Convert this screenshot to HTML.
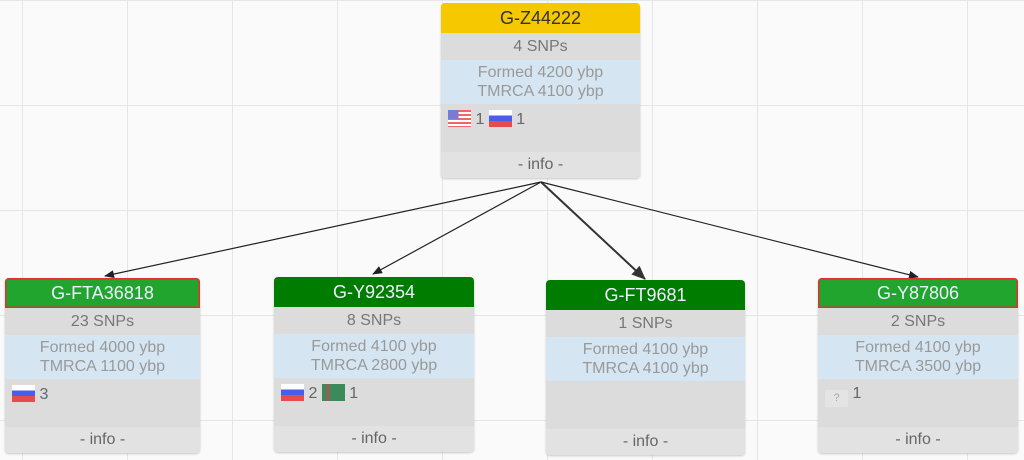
<!DOCTYPE html>
<html><head><style>
body{margin:0;width:1024px;height:460px;overflow:hidden;background:#fafafa;font-family:"Liberation Sans",sans-serif;position:relative;
background-image:linear-gradient(#e6e6e6 1px,transparent 1px),linear-gradient(90deg,#e6e6e6 1px,transparent 1px);background-size:105px 105px;background-position:0 0,22px 0;}
.c{position:absolute;background:#dcdcdc;border-radius:4px;box-shadow:0 1px 2px rgba(0,0,0,.2);overflow:hidden;text-align:center;color:#777;font-size:16px}
.h{height:30px;line-height:30px;font-size:18px;color:#eef;box-sizing:border-box}
.r{box-shadow:inset 0 0 0 1.5px #e03030}
.s{height:27px;line-height:27px}
.b{height:44px;background:#d5e6f2;color:#999;line-height:19px;padding-top:3px;box-sizing:border-box}
.f{height:48px;text-align:left;padding:6px 0 0 7px;box-sizing:border-box;color:#666}
.i{height:26px;line-height:26px;background:#e2e2e2;color:#666}
.ru{display:inline-block;width:23px;height:17px;background:linear-gradient(#fff 33%,#4a5de8 33% 66%,#e74c4c 66%);vertical-align:-3px}
.us{display:inline-block;width:23px;height:17px;background:linear-gradient(90deg,#7a7ad6 45%,transparent 45%) 0 0/100% 9px no-repeat,repeating-linear-gradient(#e66 0 2px,#fff 2px 4px);vertical-align:-3px}
.tm{display:inline-block;width:23px;height:17px;background:linear-gradient(90deg,#3a8a5a 20%,#a55 20% 32%,#3a8a5a 32%);vertical-align:-3px}
.q{display:inline-block;width:23px;height:17px;background:#e4e4e4;color:#aaa;font-size:11px;text-align:center;line-height:17px;vertical-align:-3px}
</style></head><body>
<svg width="1024" height="460" style="position:absolute;left:0;top:0">
<defs><marker id="a" markerWidth="10" markerHeight="8" refX="9" refY="4" orient="auto" markerUnits="userSpaceOnUse"><path d="M0,0L10,4L0,8z" fill="#222"/></marker>
<marker id="b" markerWidth="14" markerHeight="12" refX="13" refY="6" orient="auto" markerUnits="userSpaceOnUse"><path d="M0,0L14,6L0,12z" fill="#333"/></marker></defs>
<g stroke="#222" stroke-width="1.2" fill="none">
<line x1="541" y1="182" x2="105" y2="276" marker-end="url(#a)"/>
<line x1="541" y1="182" x2="373" y2="274" marker-end="url(#a)"/>
<line x1="541" y1="182" x2="645" y2="279" stroke-width="2" stroke="#333" marker-end="url(#b)"/>
<line x1="541" y1="182" x2="918" y2="277" marker-end="url(#a)"/>
</g></svg>
<div class="c" style="left:441px;top:3px;width:199px"><div class="h" style="background:#f5c800;color:#333">G-Z44222</div><div class="s">4 SNPs</div><div class="b">Formed 4200 ybp<br>TMRCA 4100 ybp</div><div class="f"><span class="us"></span> 1 <span class="ru"></span> 1</div><div class="i">- info -</div></div>
<div class="c" style="left:5px;top:278px;width:195px"><div class="h r" style="background:#22a52e">G-FTA36818</div><div class="s">23 SNPs</div><div class="b">Formed 4000 ybp<br>TMRCA 1100 ybp</div><div class="f"><span class="ru"></span> 3</div><div class="i">- info -</div></div>
<div class="c" style="left:274px;top:277px;width:200px"><div class="h" style="background:#007c00">G-Y92354</div><div class="s">8 SNPs</div><div class="b">Formed 4100 ybp<br>TMRCA 2800 ybp</div><div class="f"><span class="ru"></span> 2 <span class="tm"></span> 1</div><div class="i">- info -</div></div>
<div class="c" style="left:546px;top:280px;width:199px"><div class="h" style="background:#007c00">G-FT9681</div><div class="s">1 SNPs</div><div class="b">Formed 4100 ybp<br>TMRCA 4100 ybp</div><div class="f"></div><div class="i">- info -</div></div>
<div class="c" style="left:818px;top:278px;width:200px"><div class="h r" style="background:#22a52e">G-Y87806</div><div class="s">2 SNPs</div><div class="b">Formed 4100 ybp<br>TMRCA 3500 ybp</div><div class="f"><span class="q">?</span> 1</div><div class="i">- info -</div></div>
</body></html>
